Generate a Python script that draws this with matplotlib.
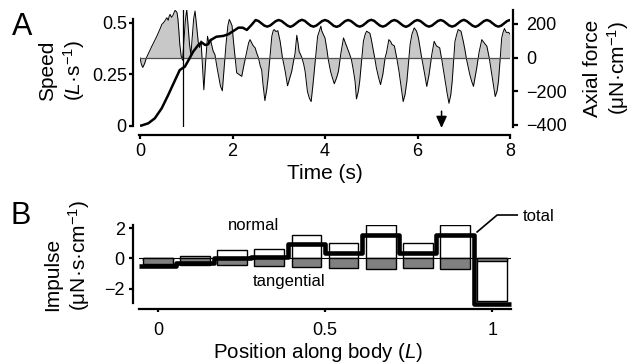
import matplotlib
matplotlib.use("Agg")
import matplotlib.pyplot as plt
import numpy as np

plt.rcParams['font.family'] = ['Liberation Sans', 'DejaVu Sans']
plt.rcParams['mathtext.fontset'] = 'custom'
plt.rcParams['mathtext.rm'] = 'Liberation Sans'
plt.rcParams['mathtext.it'] = 'Liberation Sans:italic'
plt.rcParams['mathtext.bf'] = 'Liberation Sans:bold'

# ---------------- data: panel A ----------------
speed_t_early = [0.00, 0.03, 0.18, 0.32, 0.47, 0.61, 0.76, 0.86, 0.97, 1.05, 1.15, 1.26,
                 1.33, 1.41, 1.47, 1.53, 1.65, 1.80, 1.91, 2.02, 2.13, 2.22, 2.31, 2.41]
speed_v_early = [0.002, 0.002, 0.013, 0.037, 0.086, 0.150, 0.223, 0.271, 0.287, 0.319, 0.360, 0.392,
                 0.405, 0.392, 0.395, 0.416, 0.432, 0.436, 0.444, 0.460, 0.476, 0.476, 0.465, 0.489]
speed_t_wave = np.arange(2.5, 8.0001, 0.0625)
speed_v_wave = [
    0.513, 0.508, 0.497, 0.486, 0.481, 0.486, 0.497, 0.508,
    0.513, 0.508, 0.497, 0.486, 0.480, 0.486, 0.497, 0.508,
    0.514, 0.509, 0.497, 0.486, 0.481, 0.486, 0.497, 0.508,
    0.513, 0.508, 0.497, 0.485, 0.480, 0.485, 0.497, 0.508,
    0.513, 0.508, 0.497, 0.486, 0.481, 0.486, 0.497, 0.509,
    0.514, 0.509, 0.497, 0.486, 0.481, 0.486, 0.497, 0.508,
    0.513, 0.508, 0.497, 0.486, 0.480, 0.486, 0.497, 0.508,
    0.513, 0.508, 0.497, 0.486, 0.481, 0.486, 0.497, 0.508,
    0.513, 0.508, 0.497, 0.486, 0.481, 0.486, 0.497, 0.508,
    0.514, 0.508, 0.497, 0.486, 0.480, 0.486, 0.497, 0.508,
    0.513, 0.508, 0.497, 0.486, 0.481, 0.486, 0.497, 0.508,
    0.513]

force_t = [0.00, 0.03, 0.06, 0.10, 0.14, 0.20, 0.26, 0.32, 0.36, 0.40, 0.44, 0.47, 0.50, 0.53,
           0.56, 0.58, 0.61, 0.63, 0.65, 0.68, 0.71, 0.74, 0.76, 0.78, 0.80, 0.82, 0.84, 0.86,
           0.89, 0.92, 0.95, 0.98, 1.01, 1.04, 1.07, 1.10, 1.13, 1.16, 1.19, 1.22, 1.26, 1.29,
           1.32, 1.35, 1.38, 1.42, 1.46, 1.49, 1.52, 1.55, 1.58, 1.62, 1.66, 1.70, 1.74, 1.78,
           1.82, 1.86, 1.90, 1.93, 1.96, 1.99, 2.02, 2.05, 2.09, 2.14, 2.20, 2.25, 2.31, 2.35,
           2.38, 2.42, 2.45, 2.49, 2.52, 2.56, 2.60, 2.63, 2.66, 2.70, 2.74, 2.77, 2.81, 2.85,
           2.88, 2.90, 2.94, 2.98, 3.03, 3.08, 3.14, 3.19, 3.24, 3.28, 3.32, 3.35, 3.39, 3.42,
           3.44, 3.47, 3.50, 3.54, 3.57, 3.62, 3.66, 3.70, 3.74, 3.78, 3.81, 3.84, 3.88, 3.91,
           3.93, 3.96, 4.00, 4.04, 4.07, 4.12, 4.16, 4.20, 4.25, 4.29, 4.34, 4.40, 4.44, 4.48,
           4.52, 4.57, 4.61, 4.65, 4.68, 4.72, 4.75, 4.79, 4.83, 4.87, 4.90, 4.94, 4.97, 5.00,
           5.04, 5.08, 5.11, 5.16, 5.20, 5.25, 5.30, 5.33, 5.38, 5.42, 5.45, 5.50, 5.55, 5.60,
           5.65, 5.69, 5.73, 5.77, 5.81, 5.84, 5.88, 5.93, 5.98, 6.02, 6.06, 6.09, 6.15, 6.20,
           6.25, 6.31, 6.36, 6.41, 6.48, 6.53, 6.60, 6.64, 6.68, 6.72, 6.75, 6.78, 6.81, 6.85,
           6.88, 6.94, 6.99, 7.03, 7.06, 7.13, 7.17, 7.21, 7.25, 7.28, 7.33, 7.39, 7.45, 7.50,
           7.55, 7.60, 7.64, 7.68, 7.72, 7.75, 7.79, 7.82, 7.85, 7.88, 7.92, 7.97, 8.00]
force_v = [0, -40, -58, -35, 0, 35, 70, 103, 125, 150, 175, 197, 205, 215,
           228, 237, 222, 245, 257, 240, 250, 270, 281, 275, 268, 230, 160, 80,
           10, -15, 100, 220, 287, 190, 80, 18, 120, 230, 277, 200, 90, 60,
           100, -40, -191, -20, 127, 85, 110, 75, 40, 18, -50, -110, -170, -197,
           -60, 80, 190, 227, 210, 190, 100, 20, -90, -100, -111, -40, 37, 90,
           107, 85, 70, 58, 30, 0, -50, -72, -160, -255, -190, -120, 0, 127,
           160, 167, 155, 160, 97, 0, -82, -167, -120, -82, -20, 20, 133, 80,
           37, 20, 0, -40, -82, -201, -240, -261, -160, -42, 40, 127, 160, 187,
           160, 140, 117, 50, -10, -82, -120, -155, -120, -82, 20, 117, 88, 58,
           30, -10, -70, -141, -245, -200, -141, -20, 97, 140, 157, 150, 145, 110,
           50, -10, -60, -120, -160, -100, 0, 30, 107, 95, 78, 70, 0, -82,
           -180, -261, -220, -141, -20, 78, 140, 177, 157, 117, 50, 0, -90, -171,
           -100, 20, 97, 70, 58, -20, -141, -210, -271, -220, -141, -20, 97, 140,
           167, 157, 97, 40, -10, -100, -140, -171, -110, -62, 30, 107, 85, 68,
           0, -90, -160, -231, -200, -141, 0, 117, 150, 173, 150, 150, 140]

marker_time = 0.923
arrow_time = 6.52

speed_ticks = [0, 0.25, 0.5]
speed_ticklabels = ['0', '0.25', '0.5']
force_ticks = [200, 0, -200, -400]
time_ticks = [0, 2, 4, 6, 8]

# ---------------- data: panel B ----------------
positions = np.array([0.0, 0.111, 0.222, 0.333, 0.444, 0.556, 0.667, 0.778, 0.889, 1.0])
normal = [-0.10, 0.15, 0.52, 0.60, 1.52, 1.00, 2.20, 1.03, 2.22, -2.80]
tangential = [-0.38, -0.44, -0.47, -0.52, -0.57, -0.65, -0.68, -0.65, -0.68, -0.20]
total = [-0.48, -0.29, 0.05, 0.08, 0.95, 0.35, 1.52, 0.38, 1.54, -3.00]
impulse_ticks = [2, 0, -2]
pos_ticks = [0, 0.5, 1]
pos_ticklabels = ['0', '0.5', '1']

# ---------------- figure ----------------
W, H = 633, 364
fig = plt.figure(figsize=(W / 100, H / 100), dpi=100)

SP = 1.6
TICK = 13
LAB = 15

def rect(x0, y0, x1, y1):
    return [x0 / W, 1 - y1 / H, (x1 - x0) / W, (y1 - y0) / H]

# Panel A
axA = fig.add_axes(rect(140, 10, 510, 127))
axF = axA.twinx()
axA.set_zorder(axF.get_zorder() + 1)
axA.patch.set_visible(False)

axF.fill_between(force_t, force_v, 0, color='#c8c8c8', lw=0)
axF.plot(force_t, force_v, color='black', lw=0.7)
axF.axhline(0, color='#505050', lw=0.9)
axF.set_ylim(-412, 283)
axF.set_yticks(force_ticks)
axF.annotate('', xy=(arrow_time, -418), xytext=(arrow_time, -318),
             arrowprops=dict(arrowstyle='-|>,head_length=0.7,head_width=0.32',
                             color='black', lw=1.1, shrinkA=0, shrinkB=0),
             annotation_clip=False)

axA.plot(np.concatenate([speed_t_early, speed_t_wave]),
         np.concatenate([speed_v_early, speed_v_wave]), color='black', lw=1.8)
axA.axvline(marker_time, color='black', lw=0.9)
axA.set_xlim(0, 8)
axA.set_ylim(-0.005, 0.5615)
axA.set_yticks(speed_ticks)
axA.set_yticklabels(speed_ticklabels)
axA.set_xticks(time_ticks)

for s in ['top', 'right']:
    axA.spines[s].set_visible(False)
for s in ['top', 'left', 'bottom']:
    axF.spines[s].set_visible(False)
axA.spines['left'].set_position(('outward', 5))
axA.spines['left'].set_bounds(0, 0.52)
axA.spines['bottom'].set_position(('outward', 5.8))
axA.spines['bottom'].set_bounds(-0.03, 8)
axF.spines['right'].set_position(('outward', 2))
for sp in [axA.spines['left'], axA.spines['bottom'], axF.spines['right']]:
    sp.set_linewidth(SP)

axA.tick_params(axis='y', direction='out', length=3, width=SP, labelsize=TICK, pad=1.5)
axA.tick_params(axis='x', direction='out', length=3, width=SP, labelsize=TICK, pad=3)
axF.tick_params(axis='y', direction='out', length=3.5, width=SP, labelsize=TICK, pad=6)

# Panel B
axB = fig.add_axes(rect(139.3, 225, 510.7, 304.5))
step = positions[1] - positions[0]
edges = np.concatenate([[positions[0] - step / 2], (positions[:-1] + positions[1:]) / 2,
                        [positions[-1] + step / 2]])
axB.axhline(0, color='black', lw=0.8, zorder=1)
axB.bar(positions, normal, width=0.088, color='white', edgecolor='black', lw=1.0, zorder=2)
axB.bar(positions, tangential, width=0.088, color='#808080', edgecolor='black', lw=1.0, zorder=3)
st = axB.stairs(total, edges, color='black', lw=3.3, zorder=4, baseline=None, clip_on=False)
st.set_joinstyle('round')
st.set_capstyle('butt')
axB.set_xlim(edges[0], edges[-1])
axB.set_ylim(-3.05, 2.2)
axB.set_yticks(impulse_ticks)
axB.set_xticks(pos_ticks)
axB.set_xticklabels(pos_ticklabels)
for s in ['top', 'right']:
    axB.spines[s].set_visible(False)
axB.spines['left'].set_position(('outward', 4.5))
axB.spines['left'].set_bounds(-2.95, 2.2)
axB.spines['bottom'].set_position(('outward', 3.2))
for s in ['left', 'bottom']:
    axB.spines[s].set_linewidth(SP)
axB.tick_params(axis='y', direction='out', length=3, width=SP, labelsize=TICK, pad=3)
axB.tick_params(axis='x', direction='out', length=2.5, width=SP, labelsize=TICK, pad=7)

axB.text(0.287, 2.2, 'normal', fontsize=12, ha='center', va='center')
axB.text(0.392, -1.5, 'tangential', fontsize=12, ha='center', va='center')
axB.plot([0.955, 1.015, 1.075], [1.74, 2.86, 2.86], color='black', lw=1.2, clip_on=False)
axB.text(1.093, 2.78, 'total', fontsize=12, ha='left', va='center', clip_on=False)

# labels (figure coordinates)
def ft(x, y, s, **kw):
    fig.text(x / W, 1 - y / H, s, **kw)

ft(22.5, 27, 'A', fontsize=22, ha='center', va='center')
ft(21, 216, 'B', fontsize=22, ha='center', va='center')
ft(325, 164, 'Time (s)', fontsize=LAB, ha='center', va='top')
ft(318.5, 358.5, r'Position along body ($\mathit{L}$)', fontsize=14.8, ha='center', va='baseline')
ft(62.5, 101, 'Speed\n($\\mathit{L}$·s$^{-1}$)', fontsize=LAB, rotation=90,
   ha='center', va='bottom', multialignment='left')
ft(607, 68, 'Axial force\n(μN·cm$^{-1}$)', fontsize=LAB, rotation=90,
   ha='center', va='center', multialignment='center')
ft(67.5, 311, 'Impulse\n(μN·s·cm$^{-1}$)', fontsize=LAB, rotation=90,
   ha='center', va='bottom', multialignment='left')

fig.savefig('out.png', dpi=100)
